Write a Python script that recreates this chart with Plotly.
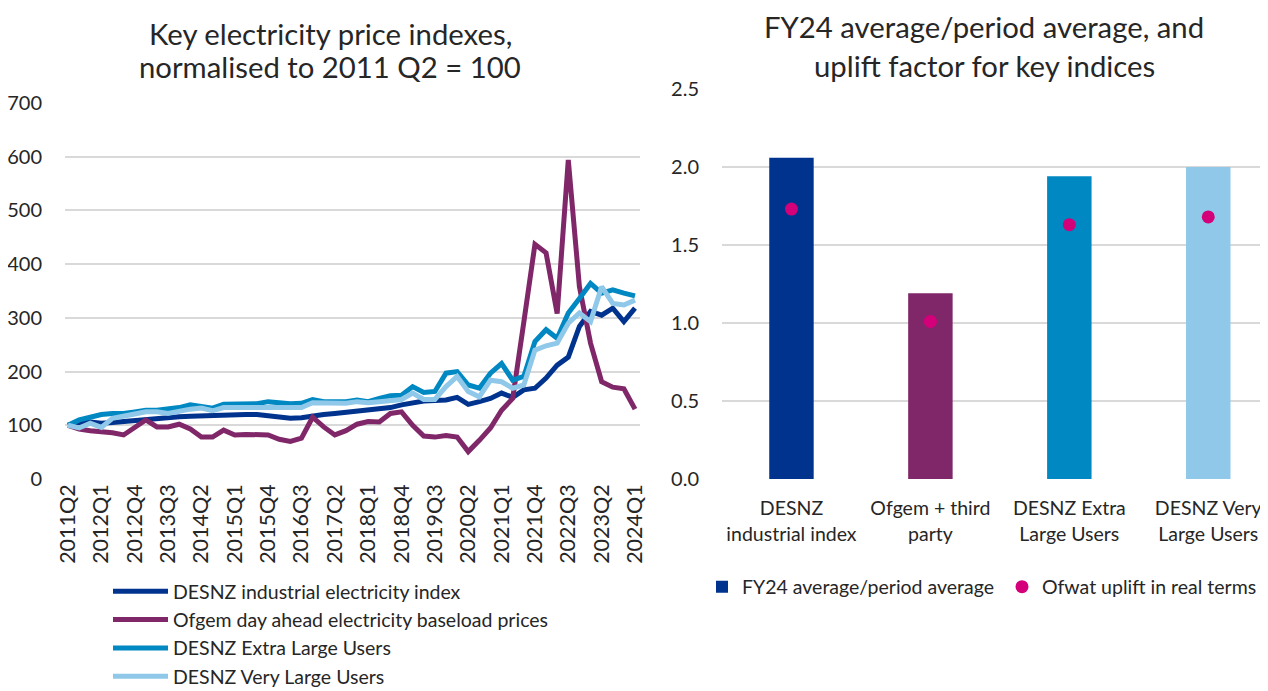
import plotly.graph_objects as go

# page has an 8px body margin, so the figure is drawn offset by (8, 8)
OFF = 8
W, H = 1268 - OFF, 691 - OFF

quarters = [
    "2011Q2", "2011Q3", "2011Q4", "2012Q1", "2012Q2", "2012Q3", "2012Q4", "2013Q1",
    "2013Q2", "2013Q3", "2013Q4", "2014Q1", "2014Q2", "2014Q3", "2014Q4", "2015Q1",
    "2015Q2", "2015Q3", "2015Q4", "2016Q1", "2016Q2", "2016Q3", "2016Q4", "2017Q1",
    "2017Q2", "2017Q3", "2017Q4", "2018Q1", "2018Q2", "2018Q3", "2018Q4", "2019Q1",
    "2019Q2", "2019Q3", "2019Q4", "2020Q1", "2020Q2", "2020Q3", "2020Q4", "2021Q1",
    "2021Q2", "2021Q3", "2021Q4", "2022Q1", "2022Q2", "2022Q3", "2022Q4", "2023Q1",
    "2023Q2", "2023Q3", "2023Q4", "2024Q1",
]
tick_labels = quarters[::3]

desnz_industrial = [
    100, 105, 106, 104, 105, 107, 110, 112, 113, 114, 116, 117, 118, 118, 119, 119,
    120, 120, 118, 115, 113, 114, 118, 120, 122, 124, 125, 127, 129, 133, 138, 142,
    145, 146, 147, 152, 139, 144, 150, 160, 152, 166, 169, 188, 212, 227, 284, 312,
    305, 318, 293, 318,
]
ofgem_day_ahead = [
    100, 93, 90, 89, 86, 82, 96, 110, 97, 97, 102, 93, 78, 78, 91, 82,
    83, 83, 82, 74, 70, 76, 115, 97, 82, 90, 102, 107, 106, 122, 125, 100,
    80, 78, 81, 78, 51, 72, 95, 128, 150, 292, 437, 421, 308, 594, 358, 253,
    181, 171, 168, 130,
]
desnz_extra_large = [
    100, 110, 115, 120, 122, 122, 125, 128, 128, 130, 133, 138, 135, 132, 139, 139,
    139, 140, 144, 141, 140, 141, 148, 144, 144, 144, 147, 144, 150, 155, 156, 172,
    161, 163, 197, 200, 175, 169, 197, 215, 184, 191, 256, 278, 262, 309, 336, 364,
    346, 352, 346, 341,
]
desnz_very_large = [
    100, 95, 104, 96, 113, 116, 121, 125, 125, 122, 127, 130, 132, 127, 133, 133,
    133, 133, 135, 135, 134, 133, 142, 141, 142, 141, 144, 142, 144, 147, 148, 160,
    148, 148, 172, 191, 163, 153, 184, 181, 169, 175, 240, 248, 253, 290, 309, 293,
    358, 327, 324, 333,
]

line_names = [
    "DESNZ industrial electricity index",
    "Ofgem day ahead electricity baseload prices",
    "DESNZ Extra Large Users",
    "DESNZ Very Large Users",
]
line_colors = ["#00338D", "#7F2768", "#0088C2", "#8FC8E8"]

bar_categories = [
    "DESNZ<br>industrial index",
    "Ofgem + third<br>party",
    "DESNZ Extra<br>Large Users",
    "DESNZ Very<br>Large Users",
]
fy24_ratio = [2.06, 1.19, 1.94, 2.00]
ofwat_uplift = [1.73, 1.01, 1.63, 1.68]
bar_colors = ["#00338D", "#7F2768", "#0088C2", "#8FC8E8"]
dot_color = "#D4007A"

FONT = "Lato"
TXT = "#262626"
GRID = "#D9D9D9"
TICK = 20
LEG = 19.5
TITLE = 29.3

fig = go.Figure()

for name, vals, col in zip(line_names,
                           [desnz_industrial, ofgem_day_ahead, desnz_extra_large, desnz_very_large],
                           line_colors):
    fig.add_trace(go.Scatter(
        x=list(range(len(quarters))), y=vals, name=name, mode="lines",
        line=dict(color=col, width=5), xaxis="x", yaxis="y", legend="legend",
        hoverinfo="skip",
    ))

fig.add_trace(go.Bar(
    x=bar_categories, y=fy24_ratio, name="FY24 average/period average",
    marker=dict(color=bar_colors, line=dict(width=0)), width=0.32,
    xaxis="x2", yaxis="y2", legend="legend2",
))
fig.add_trace(go.Scatter(
    x=bar_categories, y=ofwat_uplift, name="Ofwat uplift in real terms", mode="markers",
    marker=dict(color=dot_color, size=13), xaxis="x2", yaxis="y2", legend="legend2",
))

def px_x(p):
    return (p - OFF) / W

def px_y(p):
    return (H - (p - OFF)) / H

fig.update_layout(
    width=W, height=H,
    margin=dict(l=0, r=0, t=0, b=0, autoexpand=False),
    paper_bgcolor="white", plot_bgcolor="white",
    font=dict(family=FONT, size=18, color=TXT),
    showlegend=True,
    xaxis=dict(
        domain=[px_x(65), px_x(640)], anchor="y",
        range=[-0.27, 51.45],
        tickmode="array",
        tickvals=list(range(0, len(quarters), 3)),
        ticktext=tick_labels,
        tickangle=-90,
        showgrid=False, zeroline=False, showline=False,
        ticks="",
        tickfont=dict(size=21.5, color=TXT),
        automargin=False,
    ),
    yaxis=dict(
        domain=[px_y(479), px_y(103)], anchor="x",
        range=[0, 700], dtick=100,
        showgrid=True, gridcolor=GRID, gridwidth=1.5,
        zeroline=False, showline=False,
        ticks="outside", ticklen=18, tickcolor="rgba(0,0,0,0)",
        tickfont=dict(size=TICK, color=TXT),
        automargin=False,
    ),
    xaxis2=dict(
        domain=[px_x(722), 1.0], anchor="y2",
        range=[-0.5, 3.43],
        tickangle=0,
        showgrid=False, zeroline=False, showline=False,
        ticks="outside", ticklen=12, tickcolor="rgba(0,0,0,0)",
        tickfont=dict(size=LEG, color=TXT),
        automargin=False,
    ),
    yaxis2=dict(
        domain=[px_y(479), px_y(89)], anchor="x2",
        range=[0, 2.5], dtick=0.5, tickformat=".1f",
        showgrid=True, gridcolor=GRID, gridwidth=1.5,
        zeroline=False, showline=False,
        ticks="outside", ticklen=18, tickcolor="rgba(0,0,0,0)",
        tickfont=dict(size=TICK, color=TXT),
        automargin=False,
    ),
    legend=dict(
        x=px_x(108), y=px_y(572), xanchor="left", yanchor="top",
        orientation="v", font=dict(size=LEG, color=TXT),
        bgcolor="rgba(0,0,0,0)", itemwidth=55, tracegroupgap=0,
    ),
    legend2=dict(
        x=px_x(702), y=px_y(587), xanchor="left", yanchor="middle",
        orientation="h", font=dict(size=LEG, color=TXT),
        bgcolor="rgba(0,0,0,0)", entrywidth=255, entrywidthmode="pixels",
    ),
    annotations=[
        dict(text="Key electricity price indexes,", x=px_x(330), y=px_y(33),
             xref="paper", yref="paper", xanchor="center", yanchor="middle",
             showarrow=False, font=dict(size=TITLE, color=TXT)),
        dict(text="normalised to 2011 Q2 = 100", x=px_x(330), y=px_y(67),
             xref="paper", yref="paper", xanchor="center", yanchor="middle",
             showarrow=False, font=dict(size=TITLE, color=TXT)),
        dict(text="FY24 average/period average, and", x=px_x(984), y=px_y(27),
             xref="paper", yref="paper", xanchor="center", yanchor="middle",
             showarrow=False, font=dict(size=TITLE, color=TXT)),
        dict(text="uplift factor for key indices", x=px_x(984), y=px_y(65),
             xref="paper", yref="paper", xanchor="center", yanchor="middle",
             showarrow=False, font=dict(size=TITLE, color=TXT)),
    ],
)

fig.write_html("out.html")
